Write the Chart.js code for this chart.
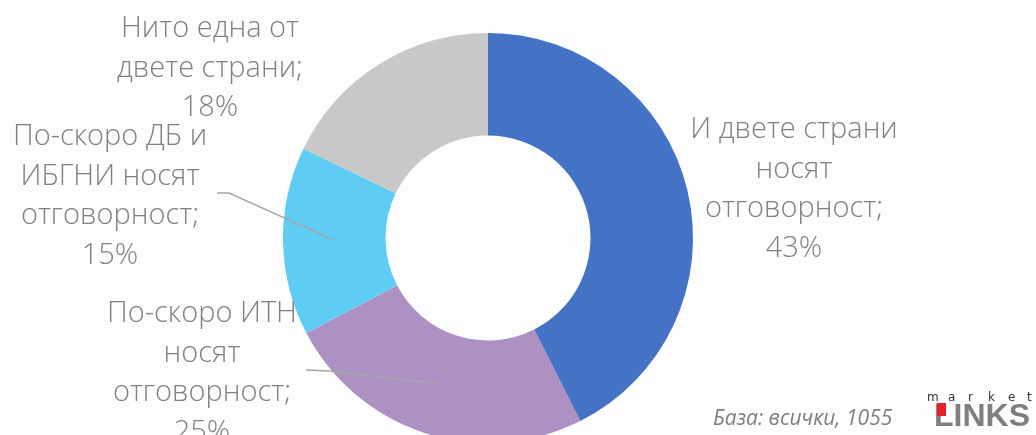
<!DOCTYPE html>
<html>
<head>
<meta charset="utf-8">
<script src="https://cdn.jsdelivr.net/npm/chart.js@4.4.1/dist/chart.umd.min.js"></script>
<style>
  html, body { margin: 0; padding: 0; background: #fdfdfd; overflow: hidden; }
  #wrap { position: relative; width: 1036px; height: 435px; overflow: hidden; }
  #box { position: absolute; left: 0; top: 0; width: 1036px; height: 480px; }
</style>
</head>
<body>
<div id="wrap">
  <div id="box"><canvas id="donut"></canvas></div>
</div>
<script>
const LABELS = ["И двете страни носят отговорност", "По-скоро ИТН носят отговорност", "По-скоро ДБ и ИБГНИ носят отговорност", "Нито една от двете страни"]
const VALUES = [43, 25, 15, 18]
const COLORS = ['#4472c4', '#ad91c2', '#5fccf3', '#c8c8c8']

// label text lines per slice, already wrapped like the original
const LABEL_LINES = [
    ["И двете страни", "носят", "отговорност;", "43%"],
    ["По-скоро ИТН", "носят", "отговорност;", "25%"],
    ["По-скоро ДБ и", "ИБГНИ носят", "отговорност;", "15%"],
    ["Нито една от", "двете страни;", "18%"]
]
const BASE_NOTE = "База: всички, 1055"

// where each label block sits: centre x, first baseline y
const LABEL_POS = [
    {x: 794, y: 138},
    {x: 202, y: 322},
    {x: 110, y: 145},
    {x: 210, y: 37}
]
// leader lines (label side), only for the two left slices
const LEADERS = {
    1: [{x: 306, y: 370}, {x: 330, y: 371}],
    2: [{x: 217, y: 193}, {x: 229, y: 193}]
}

const labelPlugin = {
    id: 'outLabels',
    afterDraw(chart) {
        const ctx = chart.ctx
        const meta = chart.getDatasetMeta(0)
        ctx.save()
        // leader lines
        ctx.strokeStyle = '#a6a6a6'
        ctx.lineWidth = 1.5
        Object.keys(LEADERS).forEach(function(k){
            const pts = LEADERS[k]
            const tip = meta.data[k].tooltipPosition()
            ctx.beginPath()
            ctx.moveTo(pts[0].x, pts[0].y)
            ctx.lineTo(pts[1].x, pts[1].y)
            ctx.lineTo(tip.x, tip.y)
            ctx.stroke()
        })
        // text
        ctx.fillStyle = '#808080'
        ctx.font = '300 29px "Open Sans"'
        ctx.textAlign = 'center'
        ctx.textBaseline = 'alphabetic'
        LABEL_LINES.forEach(function(lines, i){
            const p = LABEL_POS[i]
            lines.forEach(function(t, j){
                ctx.fillText(t, p.x, p.y + j * 39.7)
            })
        })

        // base note
        ctx.textAlign = 'left'
        ctx.fillStyle = '#7f7f7f'
        ctx.font = 'italic 21px "Open Sans"'
        ctx.fillText(BASE_NOTE, 713, 425)

        // logo
        ctx.fillStyle = '#333'
        ctx.font = '12px "DejaVu Sans"'
        var mx = [927, 948, 968, 988, 1008, 1027]
        'market'.split('').forEach(function(c, i){ ctx.fillText(c, mx[i], 401) })
        ctx.fillStyle = '#7f7f7f'
        ctx.font = 'bold 32px "Liberation Sans"'
        ctx.fillText('LINKS', 934, 426)
        ctx.fillStyle = '#e8202a'
        ctx.fillRect(937, 403, 9, 13)
        ctx.restore()
    }
}

var donut = new Chart(document.getElementById('donut'), {
    type: 'doughnut',
    data: {
        labels: LABELS,
        datasets: [{
            data: VALUES,
            backgroundColor: COLORS,
            borderWidth: 0
        }]
    },
    options: {
        responsive: true,
        maintainAspectRatio: false,
        animation: false,
        cutout: '50%',
        layout: { padding: { left: 283, right: 343, top: 33, bottom: 37 } },
        plugins: {
            legend: { display: false },
            tooltip: { enabled: false }
        }
    },
    plugins: [labelPlugin]
});
</script>
</body>
</html>
